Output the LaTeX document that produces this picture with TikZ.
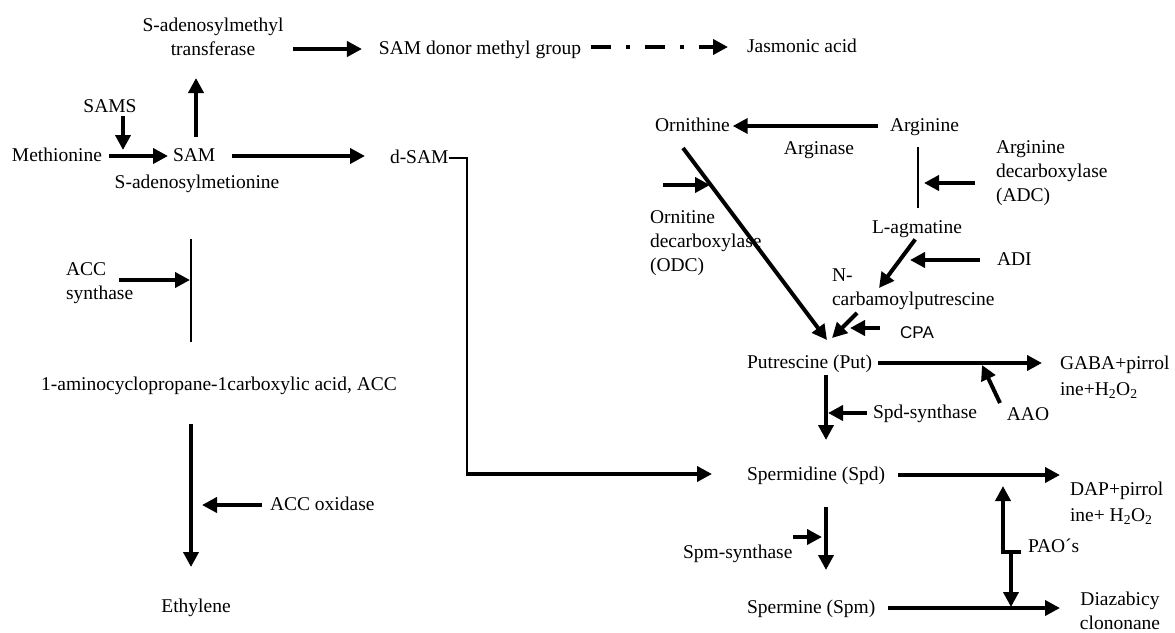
\documentclass[tikz,border=0pt]{standalone}
\usepackage{fontspec}
\setmainfont{Liberation Serif}
\newfontfamily\arialf{Liberation Sans}
\usetikzlibrary{arrows.meta}
\begin{document}
\begin{tikzpicture}[x=1pt,y=-1pt,font=\fontsize{19.5}{24}\selectfont,
  lbl/.style={inner sep=0pt,outer sep=0pt,text height=14pt,text depth=4pt},
  ml/.style={inner sep=0pt,outer sep=0pt,align=left},
  arr/.style={line width=4pt,-{Triangle[length=15pt,width=15pt]}},
  thinl/.style={line width=2pt},
  twol/.style={ml,font=\fontsize{19.5}{26}\selectfont}]
\fill[white] (0,0) rectangle (1175,632);
\useasboundingbox (0,0) rectangle (1175,632);

% ---------- nodes ----------
\node[ml,align=center] (smt) at (213,37) {S-adenosylmethyl\\transferase};
\node[lbl] (donor) at (480,49) {SAM donor methyl group};
\node[lbl,anchor=west] (jas) at (747,47) {Jasmonic acid};
\node[lbl] (sams) at (110,107) {SAMS};
\node[lbl,anchor=west] (meth) at (12,156) {Methionine};
\node[lbl,anchor=west] (sam) at (173,156) {SAM};
\node[lbl] (samfull) at (197,183) {S-adenosylmetionine};
\node[lbl,anchor=west] (dsam) at (390,158) {d-SAM};
\node[ml,anchor=west] (accs) at (66,283) {ACC\\synthase};
\node[lbl] (acc) at (219,385) {1-aminocyclopropane-1carboxylic acid, ACC};
\node[lbl,anchor=west] (acco) at (270,505) {ACC oxidase};
\node[lbl] (eth) at (196,607) {Ethylene};
\node[lbl,anchor=west] (orn) at (655,126) {Ornithine};
\node[lbl,anchor=west] (arg) at (890,126) {Arginine};
\node[lbl] (argase) at (819,149) {Arginase};
\node[ml,anchor=west] (adc) at (996,173) {Arginine\\decarboxylase\\(ADC)};
\node[lbl] (agm) at (917,228) {L-agmatine};
\node[lbl,anchor=west] (adi) at (997,260) {ADI};
\node[ml,anchor=west] (ncarb) at (832,289) {N-\\carbamoylputrescine};
\node[lbl,font=\arialf\fontsize{17}{20}\selectfont] (cpa) at (917,333) {CPA};
\node[ml,anchor=west] (odc) at (650,243) {Ornitine\\decarboxylase\\(ODC)};
\node[lbl,anchor=west] (put) at (747,363) {Putrescine (Put)};
\node[twol,anchor=west] (gaba) at (1060,377) {GABA+pirrol\\ine+H\textsubscript{2}O\textsubscript{2}};
\node[lbl] (aao) at (1028,415) {AAO};
\node[lbl,anchor=west] (spds) at (873,413) {Spd-synthase};
\node[lbl,anchor=west] (spd) at (747,475) {Spermidine (Spd)};
\node[twol,anchor=west] (dap) at (1070,503) {DAP+pirrol\\ine+ H\textsubscript{2}O\textsubscript{2}};
\node[lbl,anchor=west] (pao) at (1028,547) {PAO´s};
\node[lbl,anchor=west] (spms) at (683,553) {Spm-synthase};
\node[lbl,anchor=west] (spm) at (747,608) {Spermine (Spm)};
\node[ml,align=center] (diaz) at (1120,611) {Diazabicy\\clononane};

% ---------- coordinates ----------
\coordinate (samsE) at (123,150);
\coordinate (samUp) at (196,78);
\coordinate (dcorner) at (467,474);
\coordinate (accT) at (191,239);
\coordinate (accB) at (191,342);
\coordinate (accsA) at (119,280);
\coordinate (accD) at (191,424);
\coordinate (ethT) at (191,567);
\coordinate (argT) at (918,147);
\coordinate (argB) at (918,208);
\coordinate (adcA) at (975,183);
\coordinate (ncT) at (879,288);
\coordinate (adiT) at (910,260);
\coordinate (ncS) at (857,313);
\coordinate (putT1) at (827,340);
\coordinate (putT2) at (832,338);
\coordinate (cpaT) at (850,328);
\coordinate (ornS) at (683,148);
\coordinate (odcA) at (663,185);
\coordinate (odcT) at (710,185);
\coordinate (aaoS) at (1000,403);
\coordinate (aaoT) at (982,365);
\coordinate (putD1) at (826,375);
\coordinate (putD2) at (826,440);
\coordinate (spdsT) at (828,413);
\coordinate (spdD1) at (826,507);
\coordinate (spdD2) at (826,570);
\coordinate (spmsA) at (793,537);
\coordinate (spmsT) at (822,537);
\coordinate (diazA) at (1060,608);
\coordinate (paoR) at (1021,552);
\coordinate (paoL) at (1003,552);
\coordinate (paoUp) at (1003,486);
\coordinate (paoM) at (1011,552);
\coordinate (paoDn) at (1011,607);

% ---------- connectors ----------
\draw[arr,shorten <=7pt,shorten >=5pt] (meth.east) -- (sam.west);
\draw[arr,shorten <=17pt,shorten >=25pt] (sam.east) -- (sam.east -| dsam.west);
\draw[arr] (sams.south -| samsE) -- (samsE);
\draw[arr,shorten <=10pt] (sam.north -| samUp) -- (samUp);
\draw[arr,shorten <=10pt,shorten >=17pt] (smt.east |- donor.west) -- (donor.west);
\draw[arr,dash pattern=on 20pt off 15pt on 4pt off 15pt,shorten <=10pt,shorten >=19pt]
  (donor.east |- jas.west) -- (jas.west);
\draw[thinl] (dsam.east) -| (dcorner);
\draw[arr,shorten <=-1pt,shorten >=35pt] (dcorner) -- (dcorner -| spd.west);

\draw[thinl] (accT) -- (accB);
\draw[arr,shorten >=1pt] (accsA) -- (accsA -| accT);
\draw[arr] (accD) -- (ethT);
\draw[arr,shorten <=8pt,shorten >=11pt] (acco.west) -- (acco.west -| ethT);

\draw[arr,shorten <=12pt,shorten >=3pt] (arg.west) -- (orn.east);
\draw[thinl] (argT) -- (argB);
\draw[arr,shorten >=6pt] (adcA) -- (adcA -| argT);
\draw[arr,shorten <=3pt] (agm.south) -- (ncT);
\draw[arr,shorten <=17pt] (adi.west) -- (adiT);
\draw[arr] (ncS) -- (putT2);
\draw[arr,shorten <=20pt] (cpa.west |- cpaT) -- (cpaT);
\draw[arr] (ornS) -- (putT1);
\draw[arr] (odcA) -- (odcT);

\draw[arr,shorten <=6pt,shorten >=18pt] (put.east) -- (put.east -| gaba.west);
\draw[arr] (aaoS) -- (aaoT);
\draw[arr] (putD1) -- (putD2);
\draw[arr,shorten <=6pt] (spds.west) -- (spdsT);

\draw[arr,shorten <=13pt,shorten >=10pt] (spd.east) -- (spd.east -| dap.west);
\draw[arr] (spdD1) -- (spdD2);
\draw[arr] (spmsA) -- (spmsT);
\draw[arr,shorten <=13pt] (spm.east) -- (diazA);
\draw[arr] (paoR) -- (paoL) -- (paoUp);
\draw[arr] (paoM) -- (paoDn);
\end{tikzpicture}
\end{document}
